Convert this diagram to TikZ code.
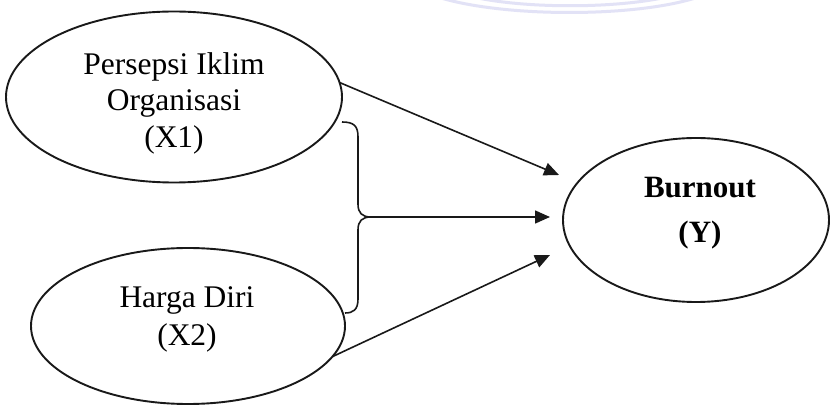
\documentclass[tikz,border=0pt]{standalone}
\usepackage{fontspec}
\setmainfont{Liberation Serif}
\usetikzlibrary{shapes.geometric,arrows.meta}
\definecolor{wm}{RGB}{226,226,246}
\tikzset{
  oval/.style={ellipse, draw=black!90, line width=1.9pt, inner sep=0pt, outer sep=0pt},
  lbl/.style={anchor=base, inner sep=0pt, font=\fontsize{31.5}{37}\selectfont},
  blbl/.style={anchor=base, inner sep=0pt, font=\fontsize{31}{37}\selectfont\bfseries},
  arr/.style={draw=black!90, line width=1.6pt, -{Triangle[length=15pt,width=13pt]}},
  bracepath/.style={draw=black!90, line width=1.6pt, line join=round},
  wmarc/.style={draw=wm, line width=3pt}
}
\begin{document}
\begin{tikzpicture}[x=1pt,y=-1pt]
\useasboundingbox (0,0) rectangle (831,406);
\fill[white] (0,0) rectangle (831,406);
% faint watermark arcs
\draw[wmarc] (420,-10) .. controls (480,20) and (660,20) .. (715,-10);
\draw[wmarc] (450,-10) .. controls (500,11) and (640,11) .. (690,-10);
% ellipses
\node[oval, minimum width=336pt, minimum height=171pt] (x1) at (174,97) {};
\node[oval, minimum width=314pt, minimum height=156pt] (x2) at (188,326) {};
\node[oval, minimum width=266pt, minimum height=164pt] (y) at (696,220) {};
% texts
\node[lbl] (x1a) at (174,75) {Persepsi Iklim};
\node[lbl] (x1b) at (174,111) {Organisasi};
\node[lbl] (x1c) at (174,148) {(X1)};
\node[lbl] (x2a) at (187,308) {Harga Diri};
\node[lbl] (x2b) at (187,346) {(X2)};
\node[blbl] (ya) at (700,198) {Burnout};
\node[blbl] (yb) at (700,243) {(Y)};
% connector end points
\coordinate (ta) at (559,175);
\coordinate (tb) at (550,217);
\coordinate (tc) at (550,255);
\coordinate (bt) at (342,122);
\coordinate (btip) at (371,217);
\coordinate (bb) at (345,313);
% brace
\draw[bracepath] (bt) .. controls (354,122) and (358,126) .. (358,137)
  -- (358,204) .. controls (358,213) and (362,217) .. (btip)
  .. controls (362,217) and (358,221) .. (358,230)
  -- (358,299) .. controls (358,310) and (353,313) .. (bb);
% arrows
\draw[arr] (x1.5) -- (ta);
\draw[arr] (btip) -- (tb);
\draw[arr] (x2.-12) -- (tc);
\end{tikzpicture}
\end{document}
